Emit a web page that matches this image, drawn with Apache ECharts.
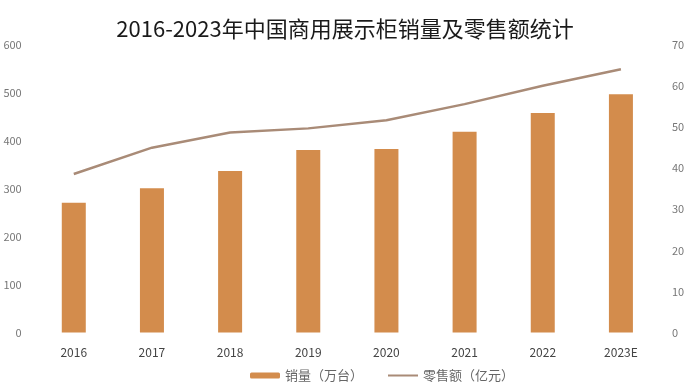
<!DOCTYPE html>
<html>
<head>
<meta charset="utf-8">
<script src="https://cdn.jsdelivr.net/npm/echarts@6/dist/echarts.min.js"></script>
<style>
html,body{margin:0;padding:0;background:#fff;}
#chart{width:690px;height:382px;}
</style>
</head>
<body>
<div id="chart"></div>
<script>
const categories = ['2016','2017','2018','2019','2020','2021','2022','2023E'];
const salesVolume = [271, 301, 337, 381, 383, 419, 458, 497];
const retailValue = [38.6, 45.0, 48.7, 49.7, 51.7, 55.6, 60.1, 64.1];
const leftTicks = {min: 0, max: 600, interval: 100};
const rightTicks = {min: 0, max: 70, interval: 10};

const chart = echarts.init(document.getElementById('chart'), null, {renderer: 'canvas'});
const font = '"Noto Sans CJK SC", "Noto Sans", sans-serif';
chart.setOption({
  animation: false,
  backgroundColor: '#ffffff',
  title: {
    text: '2016-2023年中国商用展示柜销量及零售额统计',
    left: 'center',
    top: 13,
    textStyle: {fontFamily: font, fontSize: 22, fontWeight: 'normal', color: '#1a1a1a'}
  },
  legend: {
    left: 245,
    top: 364,
    itemWidth: 30,
    itemHeight: 6,
    itemGap: 24,
    textStyle: {fontFamily: font, fontSize: 13, color: '#666'},
    data: [
      {name: '销量（万台）', icon: 'roundRect'},
      {name: '零售额（亿元）', itemStyle: {opacity: 0}}
    ]
  },
  grid: {left: 34.7, right: 30, top: 45, bottom: 49.5, containLabel: false},
  xAxis: {
    type: 'category',
    data: categories,
    axisLine: {show: false},
    axisTick: {show: false},
    axisLabel: {fontFamily: font, fontSize: 12, color: '#444', margin: 14}
  },
  yAxis: [
    {
      type: 'value',
      min: leftTicks.min, max: leftTicks.max, interval: leftTicks.interval,
      axisLine: {show: false}, axisTick: {show: false},
      splitLine: {show: false},
      axisLabel: {fontFamily: font, fontSize: 11, color: '#777', margin: 13}
    },
    {
      type: 'value',
      min: rightTicks.min, max: rightTicks.max, interval: rightTicks.interval,
      axisLine: {show: false}, axisTick: {show: false},
      splitLine: {show: false},
      axisLabel: {fontFamily: font, fontSize: 11, color: '#777', margin: 12}
    }
  ],
  series: [
    {
      name: '销量（万台）',
      type: 'bar',
      yAxisIndex: 0,
      data: salesVolume,
      barWidth: 24,
      itemStyle: {color: '#D38C4C'}
    },
    {
      name: '零售额（亿元）',
      type: 'line',
      yAxisIndex: 1,
      data: retailValue,
      symbol: 'none',
      lineStyle: {color: '#A98B77', width: 2.5},
      itemStyle: {color: '#A98B77'}
    }
  ]
});
</script>
</body>
</html>
